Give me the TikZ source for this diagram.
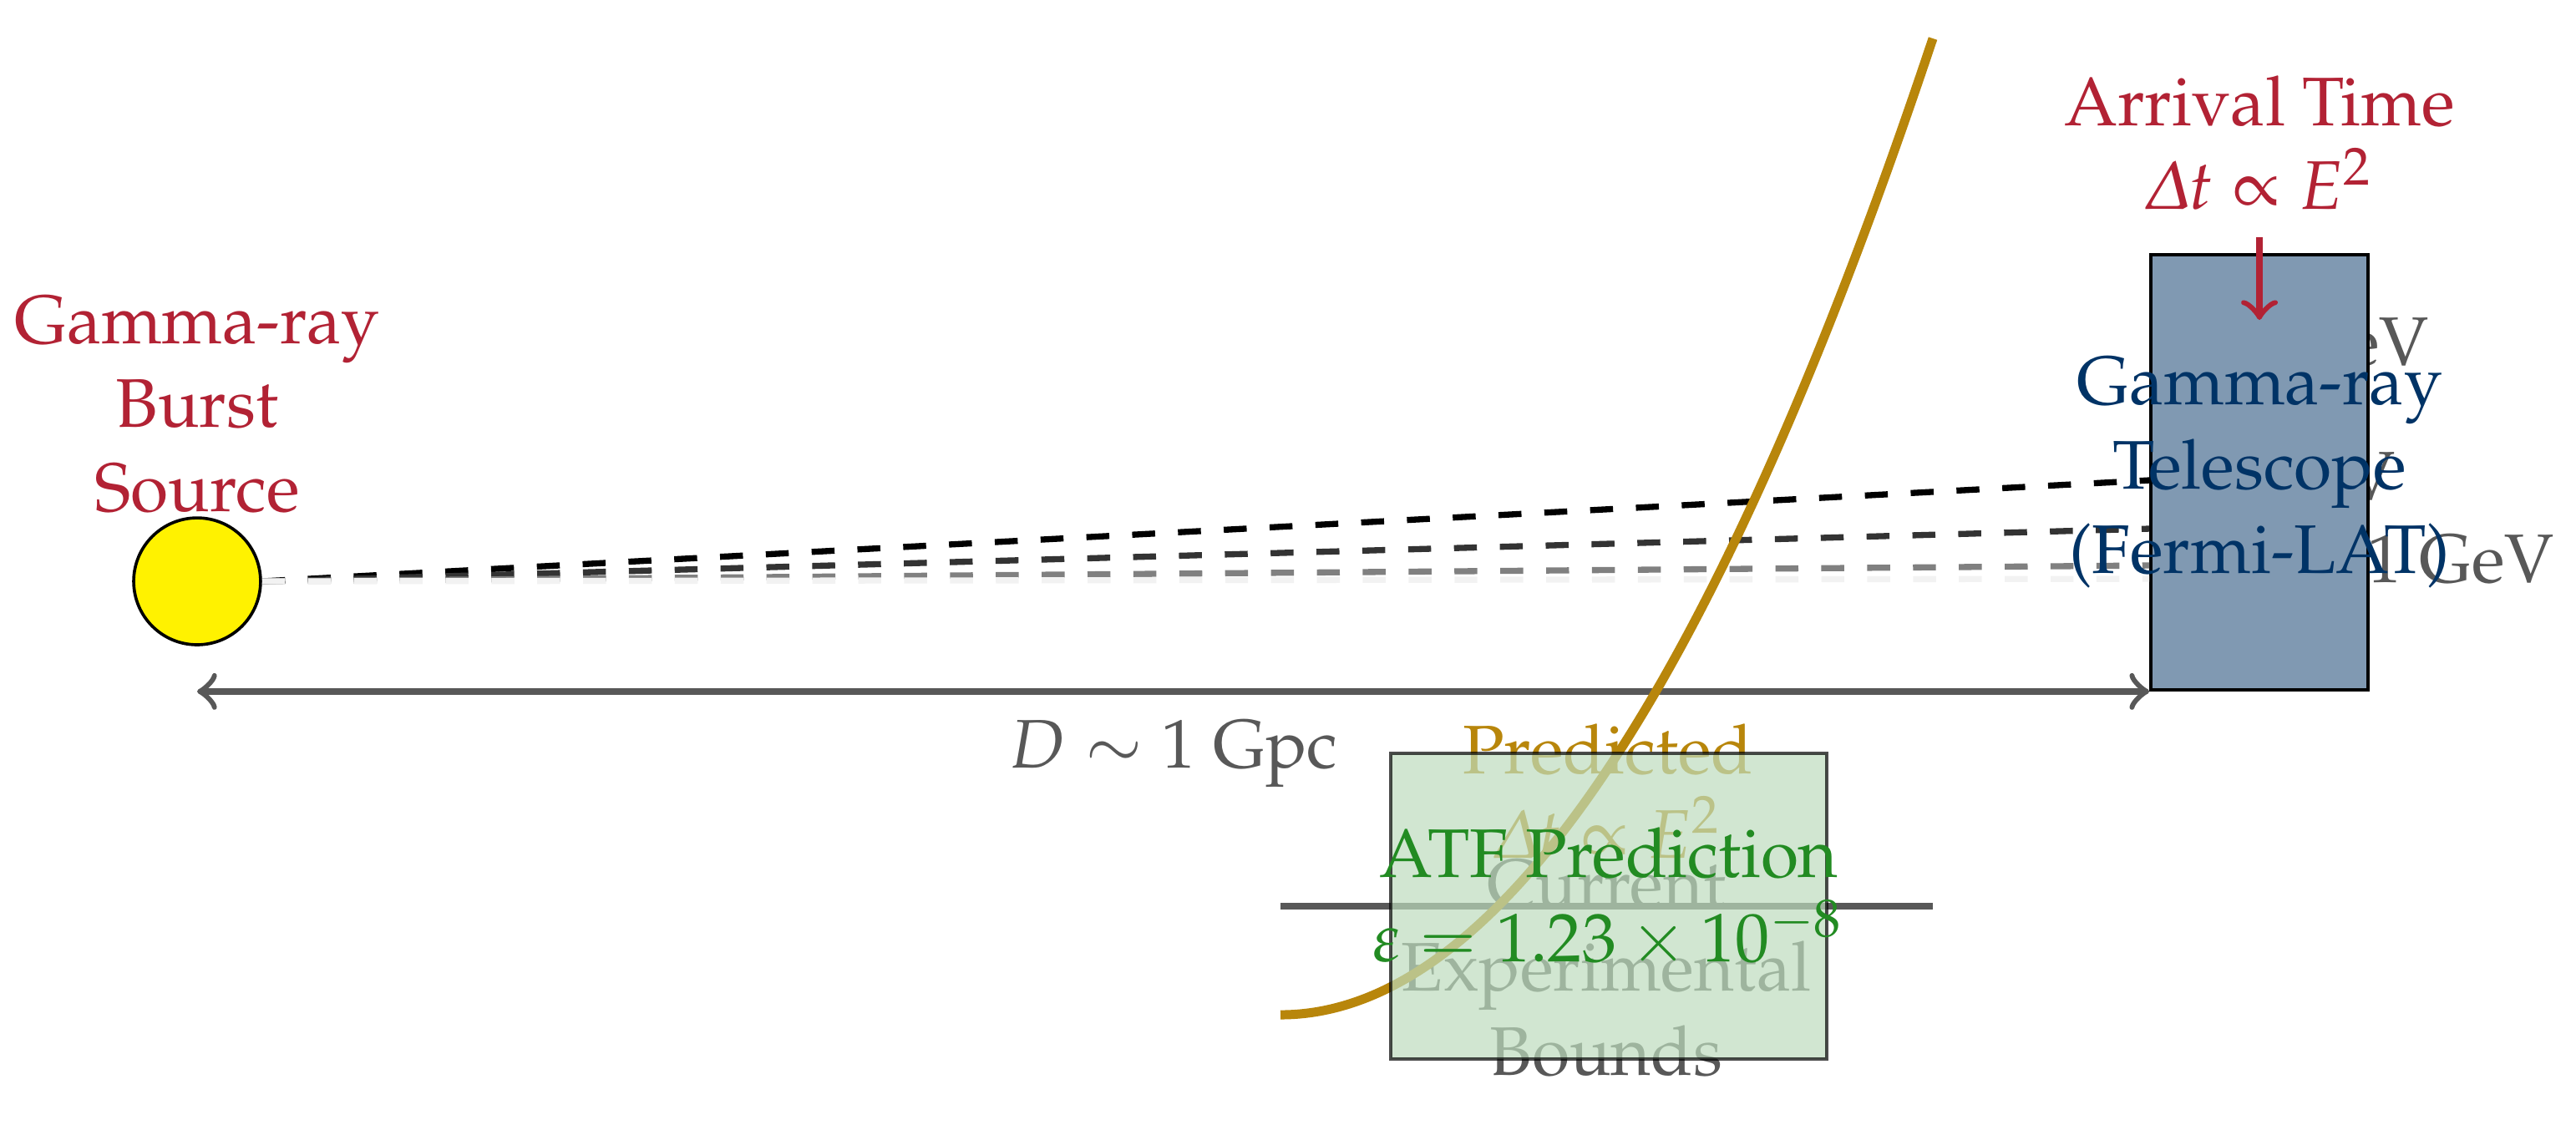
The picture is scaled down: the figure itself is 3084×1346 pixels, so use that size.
\documentclass[tikz,border=0pt]{standalone}
\usepackage[T1]{fontenc}
\usepackage[slantedGreek]{mathpazo}
\usetikzlibrary{calc}
\definecolor{gcred}{RGB}{178,34,52}
\definecolor{gcnavy}{RGB}{0,51,102}
\definecolor{gcgold}{RGB}{184,134,11}
\definecolor{gcgreen}{RGB}{34,139,34}
\definecolor{gcgray}{RGB}{88,88,88}
\definecolor{gcyellow}{RGB}{255,242,0}
\begin{document}
\begin{tikzpicture}[x=0.10929pt,y=-0.10929pt,font=\small,
  txt/.style={align=center,inner sep=0pt},
  srcnode/.style={circle,draw=black,fill=gcyellow,minimum size=16.6pt,inner sep=0pt},
  telebox/.style={rectangle,draw=black,fill=gcnavy!50,minimum width=28.42pt,minimum height=56.94pt,inner sep=0pt},
  atfbox/.style={rectangle,draw=black,draw opacity=0.7,fill=gcgreen!30,fill opacity=0.7,minimum width=57.05pt,minimum height=40pt,inner sep=0pt},
  ray/.style={dashed,thick},
  energylbl/.style={txt,text=gcgray,anchor=base east}]
\useasboundingbox (0,0) rectangle (3084,1346);

% source
\node[srcnode] (src) at (236,696) {};
\node[txt,text=gcred,anchor=south] (srclbl) at (236,616) {Gamma-ray\\Burst\\Source};

% energy labels (partly hidden by the telescope)
\node[energylbl] (e100) at (2910,437) {100 GeV};
\node[energylbl] (e10) at (2870,598) {10 GeV};
\node[energylbl] (e1) at (3060,697) {1 GeV};

% telescope
\coordinate (telc) at (2705,565.5);
\node[telebox] (tel) at (telc) {};

% photon paths
\draw[ray,black] (src.east) -- ($(tel.west)+(0,9.5)$);
\draw[ray,black!80] (src.east) -- ($(tel.west)+(0,67.5)$);
\draw[ray,black!50] (src.east) -- ($(tel.west)+(0,111.5)$);
\draw[ray,black!5] (src.east) -- ($(tel.west)+(0,127.5)$);

\node[txt,text=gcnavy] (tellbl) at (tel.center) {Gamma-ray\\Telescope\\(Fermi-LAT)};

% arrival time
\node[txt,text=gcred,anchor=south,inner sep=3.33pt] (arrlbl) at (2705,284) {Arrival Time\\$\Delta t\propto E^2$};
\coordinate (arrtip) at (2705,383);
\draw[->,thick,gcred] (arrlbl) -- (arrtip);

% distance
\draw[<->,thick,gcgray] (src.center |- tel.south) -- (tel.south west)
  node[midway,below,text=gcgray] (dlbl) {$D\sim1$ Gpc};

% experimental bounds
\coordinate (bl) at (1533,1085);
\coordinate (br) at (2314,1085);
\draw[thick,gcgray] (bl) -- (br);
\node[txt,text=gcgray,anchor=south] (boundlbl) at (1923,1291) {Current\\Experimental\\Bounds};

% predicted curve
\draw[gcgold,very thick] (1533,1215) .. controls (1793,1215) and (2054,825) .. (2314,46);
\node[txt,text=gcgold,anchor=south] (predlbl) at (1925,1030) {Predicted\\$\Delta t\propto E^2$};

% ATF prediction box
\node[atfbox] (atf) at (1926,1085) {};
\node[txt,text=gcgreen,anchor=south] (atflbl) at (1926,1160) {ATF Prediction\\$\varepsilon=1.23\times10^{-8}$};
\end{tikzpicture}
\end{document}
